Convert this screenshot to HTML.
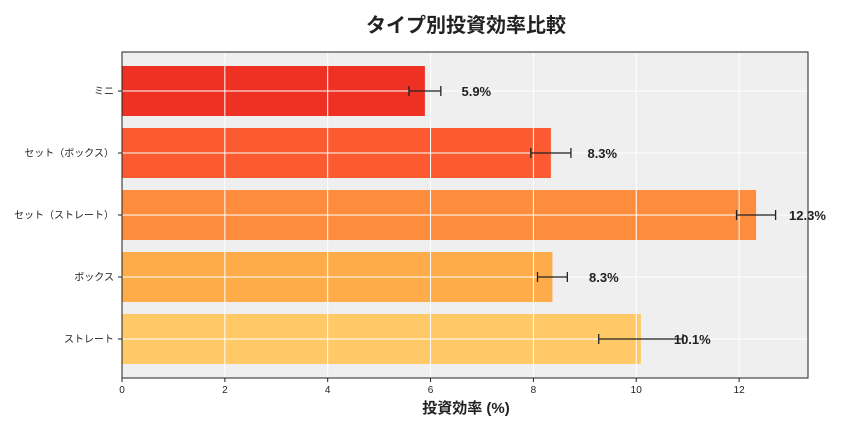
<!DOCTYPE html>
<html><head><meta charset="utf-8">
<style>
body{margin:0;background:#fff;font-family:"Liberation Sans","Noto Sans CJK JP",sans-serif;}
svg text{font-family:"Liberation Sans","Noto Sans CJK JP",sans-serif;}
</style></head>
<body>
<svg id="chart" width="864" height="432" viewBox="0 0 864 432" xmlns="http://www.w3.org/2000/svg">
<text x="466" y="32" text-anchor="middle" font-size="20" font-weight="bold" fill="#222">タイプ別投資効率比較</text>
<rect x="122" y="52" width="686" height="326" fill="#efefef"/>
<g id="bars"></g>
<g id="grid"></g>
<g id="errs"></g>
<g id="labels"></g>
<g id="axes"></g>
<text x="466" y="413" text-anchor="middle" font-size="15" font-weight="bold" fill="#222">投資効率 (%)</text>
</svg>
<script>
const categories=["ミニ","セット（ボックス）","セット（ストレート）","ボックス","ストレート"];
const values=[5.89,8.34,12.33,8.37,10.09];
const errors=[0.31,0.39,0.38,0.29,0.82];
const valueLabels=["5.9%","8.3%","12.3%","8.3%","10.1%"];
const xTicks=[0,2,4,6,8,10,12];
const colors=["#ee3123","#fc5a30","#fd8c3c","#feab4a","#fec966"];
const NS="http://www.w3.org/2000/svg";
const X0=122,X1=808,XMAX=13.34,Y0=52,Y1=378;
const xs=v=>X0+v/XMAX*(X1-X0);
const band=(Y1-Y0-16)/categories.length;
const yc=i=>Y0+8+band*(i+0.5);
function mk(tag,attrs,parent){const e=document.createElementNS(NS,tag);for(const k in attrs)e.setAttribute(k,attrs[k]);document.getElementById(parent).appendChild(e);return e;}
categories.forEach((c,i)=>{
 const y=yc(i),h=50;
 const r=mk('rect',{x:X0,y:y-h/2,width:xs(values[i])-X0,height:h,fill:colors[i]},'bars');
 
 
 const g=mk('line',{x1:X0,x2:X1,y1:y,y2:y,stroke:'#fff','stroke-width':1},'grid');
 
 
 const a=xs(values[i]-errors[i]),b=xs(values[i]+errors[i]);
 const eg=mk('g',{stroke:'#222','stroke-width':1.3},'errs');
 
 
 [[a,y,b,y],[a,y-5,a,y+5],[b,y-5,b,y+5]].forEach(l=>{const e=document.createElementNS(NS,'line');e.setAttribute('x1',l[0]);e.setAttribute('y1',l[1]);e.setAttribute('x2',l[2]);e.setAttribute('y2',l[3]);eg.appendChild(e);});
 const t=mk('text',{x:xs(values[i]+1),y:y+5,'text-anchor':'middle','font-size':13,'font-weight':'bold',fill:'#222'},'labels');
 t.textContent=valueLabels[i];
 
 
 const tk=mk('line',{x1:X0-4,x2:X0,y1:y,y2:y,stroke:'#222'},'axes');
 
 
 const ct=mk('text',{x:X0-8,y:y+3.5,'text-anchor':'end','font-size':10,fill:'#222'},'axes');
 ct.textContent=c;
 
 
});
xTicks.forEach(v=>{
 const x=xs(v);
 const g=mk('line',{x1:x,x2:x,y1:Y0,y2:Y1,stroke:'#fff','stroke-width':1},'grid');
 
 
 const tk=mk('line',{x1:x,x2:x,y1:Y1,y2:Y1+4,stroke:'#222'},'axes');
 
 
 const t=mk('text',{x:x,y:Y1+15,'text-anchor':'middle','font-size':10,fill:'#222'},'axes');
 t.textContent=v;
 
 
});
const fr=mk('rect',{x:X0,y:Y0,width:X1-X0,height:Y1-Y0,fill:'none',stroke:'#222','stroke-width':1},'axes');


</script>
</body></html>
